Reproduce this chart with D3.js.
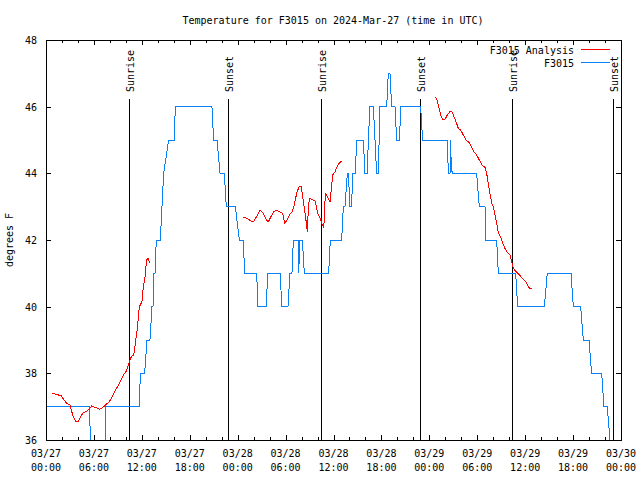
<!DOCTYPE html>
<html><head><meta charset="utf-8">
<script src="https://cdn.jsdelivr.net/npm/d3@7"></script>
<style>
body{margin:0;background:#fff}
svg{display:block;background:#fff}
text{font-family:"DejaVu Sans Mono",monospace;font-size:10px;fill:#000}
</style>
</head><body><svg id="c" width="640" height="480"></svg>
<script>
// ---------- DATA ----------
const chartTitle = "Temperature for F3015 on 2024-Mar-27 (time in UTC)";
const yLabel = "degrees F";
const seriesNames = ["F3015 Analysis", "F3015"];
const seriesColors = ["#ff0000", "#0a80f5"];
const yTicks = [36, 38, 40, 42, 44, 46, 48];
const xTickHours = [0, 6, 12, 18, 24, 30, 36, 42, 48, 54, 60, 66, 72];
const xTickDates = ["03/27","03/27","03/27","03/27","03/28","03/28","03/28","03/28","03/29","03/29","03/29","03/29","03/30"];
const xTickTimes = ["00:00","06:00","12:00","18:00","00:00","06:00","12:00","18:00","00:00","06:00","12:00","18:00","00:00"];
const eventHours = [10.43, 22.83, 34.47, 46.87, 58.39, 70.96];
const eventLabels = ["Sunrise","Sunset","Sunrise","Sunset","Sunrise","Sunset"];

// observed F3015: [hours since 03/27 00:00 UTC, degF]
const obsSeries = [
 [0,37],[5.43,37],[5.72,35],[7.30,35],[7.51,37],[11.69,37],[11.81,38],[12.35,38],[12.65,39],[13.02,39],
 [13.27,40],[13.40,40],[13.52,41],[13.65,41],[13.81,42],[14.32,42],[14.52,43],[14.73,44],[15.36,45],[16.07,45],
 [16.19,46],[20.78,46],[20.99,45],[21.41,45],[21.79,44],[22.33,44],[22.58,43],[23.71,43],[24.21,42],[24.71,42],
 [24.87,41],[26.38,41],[26.54,40],[27.59,40],[27.75,41],[29.34,41],[29.51,40],[30.30,40],[30.55,41],[30.80,41],
 [30.97,42],[31.59,42],[31.66,41],[31.74,42],[32.10,42],[32.35,41],[35.39,41],[35.60,42],[37.02,42],[37.23,43],
 [37.44,43],[37.73,44],[37.90,44],[38.00,43],[38.27,43],[38.40,44],[38.73,44],[38.90,45],[39.73,45],[39.94,44],
 [40.23,44],[40.36,45],[40.57,46],[40.99,46],[41.20,45],[41.40,44],[41.61,44],[41.82,46],[42.66,46],[42.86,47],
 [43.07,47],[43.28,46],[43.70,46],[43.91,45],[44.24,45],[44.45,46],[46.91,46],[47.16,45],[50.25,45],[50.38,44],
 [50.59,44],[50.66,45],[50.71,44],[50.78,44.5],[50.85,44],[53.92,44],[54.26,43],[54.97,43],[55.05,42],[56.43,42],
 [56.64,41],[58.81,41],[59.06,40],[62.40,40],[62.77,41],[65.74,41],[66.03,40],[66.95,40],[67.28,39],[67.99,39],
 [68.32,38],[69.58,38],[69.87,37],[70.28,37],[70.62,36],[70.70,35]
];

// analysis F3015, three separate runs
const anaRun1 = [
 [0.75,37.40],[1.25,37.37],[1.88,37.33],[2.50,37.12],[3.01,37.05],[3.34,36.75],[3.67,36.57],[4.05,36.57],
 [4.38,36.72],[4.67,36.82],[5.01,36.85],[5.34,36.92],[5.72,37.02],[6.26,36.97],[6.68,36.92],[7.01,36.95],
 [7.43,37.05],[7.93,37.15],[8.35,37.32],[8.76,37.52],[9.18,37.70],[9.68,37.95],[10.02,38.05],[10.35,38.28],
 [10.68,38.50],[10.98,38.55],[11.19,38.90],[11.44,39.35],[11.69,40.00],[12.02,40.15],[12.19,40.60],[12.40,40.90],
 [12.60,41.40],[12.77,41.45],[12.98,41.32]
];
const anaRun2 = [
 [24.71,42.68],[25.21,42.65],[25.67,42.57],[26.04,42.57],[26.42,42.72],[26.79,42.90],[27.13,42.83],[27.46,42.68],
 [27.80,42.53],[28.17,42.70],[28.51,42.84],[28.80,42.90],[29.22,42.85],[29.63,42.80],[29.88,42.50],[30.13,42.58],
 [30.47,42.75],[30.80,42.84],[31.09,43.05],[31.39,43.40],[31.72,43.62],[31.93,43.62],[32.14,43.30],[32.35,42.95],
 [32.55,42.60],[32.72,42.25],[32.80,42.70],[32.97,43.25],[33.31,43.22],[33.72,43.17],[34.02,42.80],[34.31,42.67],
 [34.56,42.47],[34.72,42.40],[34.85,42.55],[34.97,43.40],[35.23,43.30],[35.56,43.15],[35.90,43.95],[36.19,44.05],
 [36.60,44.28],[37.03,44.37]
];
const anaRun3 = [
 [48.71,46.28],[48.92,46.25],[49.12,46.05],[49.42,45.75],[49.67,45.62],[49.96,45.62],[50.25,45.75],[50.59,45.85],
 [50.84,45.85],[51.09,45.70],[51.34,45.55],[51.63,45.35],[51.92,45.30],[52.25,45.15],[52.59,45.00],[53.01,44.92],
 [53.30,44.78],[53.59,44.65],[53.92,44.55],[54.26,44.40],[54.59,44.25],[54.97,44.18],[55.18,44.00],[55.38,43.70],
 [55.59,43.40],[55.80,43.12],[56.01,43.00],[56.22,42.75],[56.43,42.50],[56.64,42.20],[56.93,42.10],[57.18,41.90],
 [57.47,41.75],[57.76,41.63],[58.10,41.55],[58.31,41.35],[58.51,41.15],[58.85,41.05],[59.27,40.95],[59.68,40.85],
 [60.10,40.75],[60.39,40.60],[60.60,40.55],[60.85,40.55]
];

// ---------- CHART ----------
const svg = d3.select("#c");
const L = 46, R = 621, T = 40, B = 440;
const t0 = Date.UTC(2024, 2, 27);
const toDate = h => new Date(t0 + h * 3600e3);
const x = d3.scaleUtc().domain([toDate(0), toDate(72)]).range([L, R]);
const y = d3.scaleLinear().domain([36, 48]).range([B, T]);

svg.append("defs").append("clipPath").attr("id", "clip")
  .append("rect").attr("x", L).attr("y", T).attr("width", R - L + 1).attr("height", B - T + 1);

// title
svg.append("text").attr("x", 333).attr("y", 24).attr("text-anchor", "middle").text(chartTitle);

// y label
svg.append("text").attr("transform", "translate(13,240) rotate(-90)")
  .attr("text-anchor", "middle").text(yLabel);

// ticks
const minorHours = d3.range(0, 73, 2).filter(h => h % 6 !== 0).map(toDate);
const majorHours = xTickHours.map(toDate);
function xTicks(axisFn, yPos, vals, size) {
  const g = svg.append("g").attr("transform", `translate(0,${yPos})`)
    .call(axisFn(x).tickValues(vals).tickSizeInner(size).tickSizeOuter(0).tickFormat(""));
  g.select(".domain").remove();
  g.selectAll("line").attr("stroke", "#000").attr("shape-rendering", "crispEdges");
}
xTicks(d3.axisBottom, B, minorHours, -3);
xTicks(d3.axisBottom, B, majorHours, -5);
xTicks(d3.axisTop, T, minorHours, -3);
xTicks(d3.axisTop, T, majorHours, -5);

const gl = svg.append("g").attr("transform", `translate(${L},0)`)
  .call(d3.axisLeft(y).tickValues(yTicks).tickSizeInner(-5).tickSizeOuter(0).tickPadding(9).tickFormat(d3.format("d")));
gl.select(".domain").remove();
gl.selectAll("line").attr("stroke", "#000").attr("shape-rendering", "crispEdges");
gl.selectAll("text").attr("font-family", null).attr("font-size", null).attr("dy", "0.36em");
const gr = svg.append("g").attr("transform", `translate(${R},0)`)
  .call(d3.axisRight(y).tickValues(yTicks).tickSizeInner(-5).tickSizeOuter(0).tickFormat(""));
gr.select(".domain").remove();
gr.selectAll("line").attr("stroke", "#000").attr("shape-rendering", "crispEdges");

// x tick labels (two lines)
const xl = svg.append("g");
xTickHours.forEach((h, i) => {
  const t = xl.append("text").attr("text-anchor", "middle");
  t.append("tspan").attr("x", x(toDate(h))).attr("y", 457).text(xTickDates[i]);
  t.append("tspan").attr("x", x(toDate(h))).attr("y", 471).text(xTickTimes[i]);
});

// sunrise / sunset
eventHours.forEach((h, i) => {
  const xp = Math.round(x(toDate(h))) + 0.5;
  svg.append("line").attr("x1", xp).attr("x2", xp).attr("y1", 99).attr("y2", B)
    .attr("stroke", "#000").attr("stroke-width", 1).attr("shape-rendering", "crispEdges");
  svg.append("text").attr("transform", `translate(${xp + 4},92) rotate(-90)`).text(eventLabels[i]);
});

// lines
const line = d3.line().x(d => x(toDate(d[0]))).y(d => y(d[1]));
const plot = svg.append("g").attr("clip-path", "url(#clip)");
plot.append("path").datum(obsSeries).attr("d", line)
  .attr("fill", "none").attr("stroke", seriesColors[1]).attr("stroke-width", 1)
  .attr("shape-rendering", "crispEdges");
[anaRun1, anaRun2, anaRun3].forEach(run => {
  plot.append("path").datum(run).attr("d", line)
    .attr("fill", "none").attr("stroke", seriesColors[0]).attr("stroke-width", 1)
    .attr("shape-rendering", "crispEdges");
});

// frame
svg.append("rect").attr("x", L + 0.5).attr("y", T + 0.5).attr("width", R - L).attr("height", B - T)
  .attr("fill", "none").attr("stroke", "#000").attr("shape-rendering", "crispEdges");

// legend
const legY = [50, 63];
seriesNames.forEach((n, i) => {
  svg.append("text").attr("x", 574).attr("y", legY[i] + 3.5).attr("text-anchor", "end").text(n);
  svg.append("line").attr("x1", 581).attr("x2", 610).attr("y1", legY[i] - 0.5).attr("y2", legY[i] - 0.5)
    .attr("stroke", seriesColors[i]).attr("stroke-width", 1).attr("shape-rendering", "crispEdges");
});
</script>
</body></html>
